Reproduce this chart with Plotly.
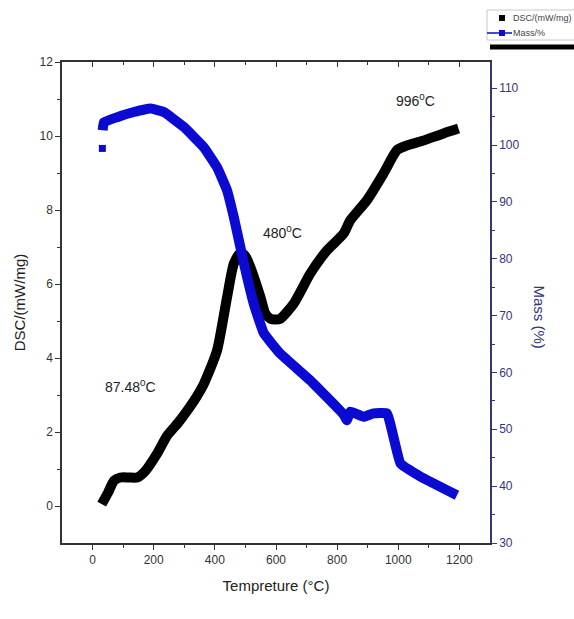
import plotly.graph_objects as go

# DSC curve (left axis)
dsc_T = [30, 50, 70, 91, 120, 146, 173, 210, 244, 280, 309, 340, 364, 407, 440, 462, 484, 500, 516, 549, 565, 582, 598, 614, 658, 712, 767, 821, 843, 898, 952, 996, 1030, 1072, 1148, 1197]
dsc_v = [0.05, 0.35, 0.68, 0.77, 0.77, 0.77, 0.95, 1.4, 1.9, 2.25, 2.57, 2.95, 3.3, 4.2, 5.65, 6.55, 6.85, 6.75, 6.46, 5.65, 5.2, 5.06, 5.04, 5.06, 5.47, 6.28, 6.91, 7.36, 7.72, 8.27, 8.99, 9.62, 9.75, 9.85, 10.07, 10.2]

# Mass curve (right axis): first isolated point, then continuous curve
mass0_T = [32]
mass0_m = [99.4]
mass_T = [33, 37, 81, 135, 190, 233, 298, 364, 407, 440, 462, 495, 527, 560, 614, 712, 821, 832, 843, 887, 919, 963, 1007, 1072, 1192]
mass_m = [102.6, 104.0, 104.9, 105.8, 106.4, 105.8, 103.2, 99.6, 96.1, 92.0, 87.3, 79.2, 72.1, 66.9, 63.3, 58.6, 52.6, 51.6, 53.1, 52.2, 52.8, 52.8, 44.0, 41.7, 38.4]

x_range = [-100, 1300]
y1_range = [-1, 12]
y2_range = [30, 114.6]

BLUE = "#0a0ad2"
navy = "#35357a"
font = "Arial, Liberation Sans, sans-serif"

fig = go.Figure()
fig.add_trace(go.Scatter(x=dsc_T, y=dsc_v, mode="lines", line=dict(color="black", width=10, shape="spline", smoothing=0.6),
                         showlegend=False, yaxis="y"))
fig.add_trace(go.Scatter(x=mass_T, y=mass_m, mode="lines", line=dict(color=BLUE, width=10, shape="spline", smoothing=0.3),
                         showlegend=False, yaxis="y2"))
fig.add_trace(go.Scatter(x=mass0_T, y=mass0_m, mode="markers", marker=dict(symbol="square", color=BLUE, size=7),
                         showlegend=False, yaxis="y2"))
# dummy trace to show top axis
fig.add_trace(go.Scatter(x=[None], y=[None], xaxis="x2", yaxis="y", showlegend=False))

fig.update_layout(
    width=574, height=619,
    margin=dict(l=62, r=84, t=62, b=76),
    paper_bgcolor="white", plot_bgcolor="white",
    font=dict(family=font, size=12, color="#333"),
    showlegend=False,
    xaxis=dict(range=x_range, tickvals=[0, 200, 400, 600, 800, 1000, 1200],
               ticks="outside", ticklen=5, tickcolor="#333", showline=True, linecolor="#333",
               linewidth=1.5, showgrid=False, zeroline=False,
               minor=dict(tickvals=[100, 300, 500, 700, 900, 1100], ticks="outside", ticklen=3, tickcolor="#333"),
               title=dict(text="Tempreture (°C)", font=dict(size=15, color="#222"), standoff=14),
               tickfont=dict(size=12, color="#333")),
    xaxis2=dict(range=x_range, overlaying="x", side="top", tickvals=[0, 200, 400, 600, 800, 1000, 1200],
                ticks="inside", ticklen=5, tickcolor="#333", showline=True, linecolor="#333",
                linewidth=1.5, showticklabels=False, showgrid=False, zeroline=False,
                minor=dict(tickvals=[100, 300, 500, 700, 900, 1100], ticks="inside", ticklen=3, tickcolor="#333")),
    yaxis=dict(range=y1_range, tickvals=[0, 2, 4, 6, 8, 10, 12], ticks="outside", ticklen=5,
               tickcolor="#333", showline=True, linecolor="#333", linewidth=1.5,
               showgrid=False, zeroline=False,
               minor=dict(tickvals=[1, 3, 5, 7, 9, 11], ticks="outside", ticklen=3, tickcolor="#333"),
               title=dict(text="DSC/(mW/mg)", font=dict(size=15, color="#222"), standoff=10),
               tickfont=dict(size=12, color="#333")),
    yaxis2=dict(range=y2_range, overlaying="y", side="right", tickvals=[30, 40, 50, 60, 70, 80, 90, 100, 110],
                ticks="outside", ticklen=5, tickcolor=navy, showline=True, linecolor=navy, linewidth=1.5,
                showgrid=False, zeroline=False,
                minor=dict(tickvals=[35, 45, 55, 65, 75, 85, 95, 105], ticks="outside", ticklen=3, tickcolor=navy),
                tickfont=dict(size=12, color=navy)),
)

fig.add_annotation(x=1.14, xref="paper", y=0.47, yref="paper", text="Mass (%)", textangle=90,
                   showarrow=False, font=dict(size=15, color=navy, family=font))
fig.add_annotation(x=1055, y=10.97, text="996<sup>0</sup>C", showarrow=False,
                   font=dict(size=14, color="#222", family=font))
fig.add_annotation(x=621, y=7.4, text="480<sup>0</sup>C", showarrow=False,
                   font=dict(size=14, color="#222", family=font))
fig.add_annotation(x=124, y=3.25, text="87.48<sup>0</sup>C", showarrow=False,
                   font=dict(size=14, color="#222", family=font))

# manual legend (pixel -> paper helpers)
def px(xp):
    return (xp - 62) / 428.0

def py(yp):
    return (543 - yp) / 481.0

fig.add_shape(type="rect", xref="paper", yref="paper", x0=px(487), x1=px(590), y0=py(40), y1=py(10),
              line=dict(color="#c8c8c8", width=1), fillcolor="white")
fig.add_shape(type="rect", xref="paper", yref="paper", x0=px(499), x1=px(505), y0=py(21), y1=py(15),
              line=dict(width=0), fillcolor="black")
fig.add_shape(type="line", xref="paper", yref="paper", x0=px(487), x1=px(512), y0=py(33), y1=py(33),
              line=dict(color=BLUE, width=1.5))
fig.add_shape(type="rect", xref="paper", yref="paper", x0=px(499), x1=px(505), y0=py(36), y1=py(30),
              line=dict(width=0), fillcolor=BLUE)
fig.add_shape(type="line", xref="paper", yref="paper", x0=px(490), x1=px(580), y0=py(47), y1=py(47),
              line=dict(color="black", width=5))
fig.add_annotation(x=px(511), y=py(18), xref="paper", yref="paper", text="DSC/(mW/mg)", showarrow=False,
                   xanchor="left", yanchor="middle", font=dict(size=9, color="#444", family=font))
fig.add_annotation(x=px(511), y=py(33), xref="paper", yref="paper", text="Mass/%", showarrow=False,
                   xanchor="left", yanchor="middle", font=dict(size=9, color="#444", family=font))

fig.write_html("out.html")
